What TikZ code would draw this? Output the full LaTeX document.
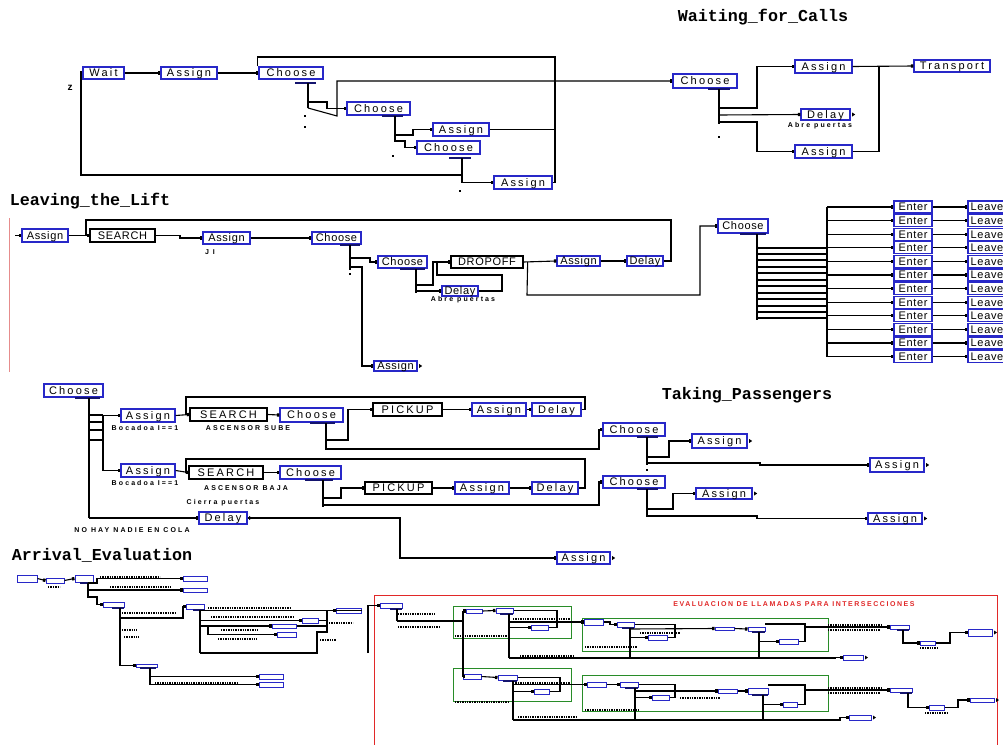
\documentclass[tikz,border=0pt]{standalone}
\usepackage{fontspec}
\setmainfont{Liberation Sans}
\newfontfamily\bxf[LetterSpace=20]{Liberation Sans}
\newfontfamily\bxnf[LetterSpace=6]{Liberation Sans}
\newfontfamily\lblf[LetterSpace=30]{Liberation Sans}
\newfontfamily\rlf[LetterSpace=22]{Liberation Sans}
\newfontfamily\ttlf{Liberation Mono}
\usetikzlibrary{arrows.meta}
\definecolor{bblue}{RGB}{40,40,200}
\definecolor{ubc}{RGB}{20,20,110}
\definecolor{redc}{RGB}{225,40,40}
\definecolor{greenc}{RGB}{40,140,40}
\definecolor{pinkc}{RGB}{230,140,140}
\tikzset{
  tipr/.style={-{Rectangle[length=2.5pt,width=3.2pt]}},
  bbox/.style={draw=bblue, line width=1.3pt, fill=white, inner sep=0pt, text height=7.6pt, text depth=0pt, font={\bxf\fontsize{11}{11}\selectfont}},
  bboxn/.style={bbox, font={\bxnf\fontsize{11}{11}\selectfont}},
  kbox/.style={bbox, draw=black},
  kboxn/.style={bboxn, draw=black},
  sbox/.style={draw=bblue, line width=1pt, fill=white, inner sep=0pt},
  ttl/.style={font={\ttlf\bfseries\fontsize{16.7}{17}\selectfont}, inner sep=0pt},
  lbl/.style={font={\lblf\bfseries\fontsize{7}{8}\selectfont}, inner sep=0pt},
  rlbl/.style={font={\rlf\bfseries\fontsize{7}{8}\selectfont}, inner sep=0pt, text=redc},
  ubar/.style={line width=2pt, draw=ubc},
  dlab/.style={line width=1.3pt, dash pattern=on 1.3pt off 1.1pt},
  frame/.style={line width=1pt}
}
\newcommand{\mybox}[7][bbox]{\node[#1, minimum width={(#5-#3)*1pt}, minimum height={(#6-#4)*1pt}] (#2) at ({(#3+#5)/2},{(#4+#6)/2}) {#7};}
\newcommand{\stub}[1]{\fill ([xshift=1.5pt]#1.east) -- ++(0,-2) -- ++(3,2) -- ++(-3,2) -- cycle;}
\newcommand{\dotm}[2]{\fill ({#1-1},{#2-1}) rectangle ({#1+1},{#2+1});}
\newcommand{\dl}[3]{\draw[dlab] (#1,#3) -- (#2,#3);}
\begin{document}
\begin{tikzpicture}[x=1pt,y=-1pt,line width=1.1pt]
\fill[white] (0,0) rectangle (1003,744);
\useasboundingbox (0,0) rectangle (1003,744);

% ================= Waiting_for_Calls =================
\node[ttl] (t1) at (763,17) {Waiting\_for\_Calls};
\mybox{ww}{83}{67}{124}{79}{Wait}
\mybox{wa1}{161}{67}{217}{79}{Assign}
\mybox{wc1}{259}{67}{323}{79}{Choose}
\node[lbl, font={\bfseries\fontsize{10}{10}\selectfont}] (wz) at (70,88) {z};
\mybox{wc2}{347}{102}{410}{115}{Choose}
\mybox{wa2}{433}{123}{489}{136}{Assign}
\mybox{wc3}{417}{141}{480}{154}{Choose}
\mybox{wa3}{494}{176}{552}{189}{Assign}
\mybox{wc4}{673}{74}{737}{88}{Choose}
\mybox{wa4}{795}{60}{852}{73}{Assign}
\mybox{wd1}{801}{109}{850}{120}{Delay}
\node[lbl] (wl1) at (820,126) {Abre puertas};
\mybox{wa5}{795}{145}{852}{158}{Assign}
\mybox{wtr}{914}{60}{990}{72}{Transport}

\draw[tipr] (ww.east) -- (wa1.west);
\draw[tipr] (wa1.east) -- (wc1.west);
\draw ([xshift=-1pt]wc1.north west) |- (555,57) |- (wa3.east);
\draw (wa2.east) -- (555,129.5);
\draw[tipr] (462,175) -- (81,175) |- (ww.west);
\draw[ubar] (295,83) -- (316,83);
\draw (308,83) -- (308,108);
\draw[tipr] (308,102) -- (327,102) |- (wc2.west);
\draw[tipr] (308,108) -- (337,116) |- (wc4.west);
\dotm{305}{116}\dotm{305}{127}
\draw[ubar] (382,116) -- (403,116);
\draw (395,116) -- (395,142);
\draw[tipr] (395,135) -- (413,135) |- (wa2.west);
\draw[tipr] (395,141) -- (405,141) |- (wc3.west);
\dotm{393}{156}
\draw[ubar] (449,158) -- (471,158);
\draw (462,158) -- (462,183);
\draw[tipr] (462,182.5) -- (wa3.west);
\dotm{460}{191}
\draw[ubar] (708,89) -- (730,89);
\draw (719,89) -- (719,124);
\draw[tipr] (719,108) -- (757,108) |- (wa4.west);
\draw[tipr] (719,115) -- (wd1.west);
\draw[tipr] (719,122) -- (757,122) |- (wa5.west);
\dotm{719}{137}
\draw[tipr] (wa4.east) -- (wtr.west);
\draw (wa5.east) -| (879,66.5);
\stub{wd1}

% ================= Leaving_the_Lift =================
\node[ttl] (t2) at (90,201) {Leaving\_the\_Lift};
\draw[pinkc, line width=0.8pt] (9,218) -- (9,372);
\mybox[bboxn]{la1}{22}{229}{68}{242}{Assign}
\mybox[kboxn]{ls1}{90}{229}{155}{242}{SEARCH}
\mybox[bboxn]{la2}{203}{232}{250}{244}{Assign}
\node[lbl] (ll0) at (210,252) {J I};
\mybox[bboxn]{lc1}{312}{232}{361}{244}{Choose}
\mybox[bboxn]{lc2}{378}{256}{427}{268}{Choose}
\mybox[kboxn]{ldo}{451}{256}{523}{268}{DROPOFF}
\mybox[bboxn]{ld1}{442}{286}{478}{296}{Delay}
\node[lbl] (ll1) at (463,300) {Abre puertas};
\mybox[bboxn]{la3}{557}{256}{600}{266}{Assign}
\mybox[bboxn]{ld2}{627}{256}{663}{266}{Delay}
\mybox[bboxn]{la4}{374}{361}{417}{371}{Assign}
\mybox[bboxn]{lc3}{718}{219}{768}{233}{Choose}

\draw[tipr] (15,235.5) -- (la1.west);
\draw[tipr] (la1.east) -- (ls1.west);
\draw[tipr] (ld2.east) -- (671,261) |- (86,220) |- (ls1.west);
\draw[tipr] (ls1.east) -- (180,235.5) |- (la2.west);
\draw[tipr] (la2.east) -- (lc1.west);
\draw[ubar] (340,245) -- (360,245);
\draw (350,245) -- (350,270);
\draw[tipr] (350,258) -- (370,258) |- (lc2.west);
\draw[tipr] (350,267) -- (362,267) |- (la4.west);
\dotm{350}{274}
\draw[ubar] (400,269) -- (425,269);
\draw (416,269) -- (416,293);
\draw[tipr] (416,285) -- (433,285) |- (ldo.west);
\draw[tipr] (416,291) -- (ld1.west);
\draw[tipr] (ld1.east) -- (502,291) |- (437,275) |- (ldo.west);
\draw[tipr] (ldo.east) -- (la3.west);
\draw[tipr] (la3.east) -- (ld2.west);
\draw[tipr] ([xshift=4pt]ldo.east) -- (527,295) -| (700,240) |- (lc3.west);
\stub{la4}

\draw[ubar] (740,234) -- (766,234);
\draw (757,234) -- (757,320);
\draw (827,207) -- (827,357);
\foreach \by in {248,254,260,267,273,280,286,293,299,306,312,318}{
  \fill (757,\by-1.5) -- (761,\by) -- (757,\by+1.5) -- cycle;
  \draw (757,\by) -- (827,\by);
}
\foreach \i in {0,...,11}{
  \pgfmathsetmacro\yc{207+13.6*\i}
  \node[bboxn, minimum width=38pt, minimum height=12pt] (e\i) at (913,\yc) {Enter};
  \node[bboxn, minimum width=38pt, minimum height=12pt] (lv\i) at (987,\yc) {Leave};
  \draw[tipr] (827,\yc) -- (e\i.west);
  \draw[tipr] (e\i.east) -- (lv\i.west);
}

% ================= Taking_Passengers =================
\node[ttl] (t3) at (747,395) {Taking\_Passengers};
\mybox{tc0}{44}{384}{103}{397}{Choose}
\mybox{ta1}{121}{409}{175}{422}{Assign}
\mybox[kbox]{ts1}{190}{408}{267}{421}{SEARCH}
\mybox{tc1}{280}{408}{343}{422}{Choose}
\mybox[kbox]{tp1}{373}{403}{442}{416}{PICKUP}
\mybox{ta2}{472}{403}{526}{416}{Assign}
\mybox{td1}{532}{403}{581}{416}{Delay}
\mybox{ta3}{121}{464}{175}{477}{Assign}
\mybox[kbox]{ts2}{189}{466}{263}{479}{SEARCH}
\mybox{tc2}{280}{466}{341}{479}{Choose}
\mybox[kbox]{tp2}{365}{482}{432}{494}{PICKUP}
\mybox{ta4}{455}{482}{509}{494}{Assign}
\mybox{td2}{532}{482}{578}{494}{Delay}
\mybox{td3}{199}{512}{247}{524}{Delay}
\mybox{ta5}{557}{552}{610}{564}{Assign}
\mybox{tc3}{603}{423}{665}{436}{Choose}
\mybox{ta6}{692}{434}{747}{448}{Assign}
\mybox{ta7}{870}{458}{924}{472}{Assign}
\mybox{tc4}{603}{476}{665}{488}{Choose}
\mybox{ta8}{696}{488}{752}{499}{Assign}
\mybox{ta9}{868}{513}{922}{524}{Assign}
\node[lbl] (tl1) at (145,428) {Bocadoa I==1};
\node[lbl] (tl2) at (248,428) {ASCENSOR SUBE};
\node[lbl] (tl3) at (145,483) {Bocadoa I==1};
\node[lbl] (tl4) at (246,488) {ASCENSOR BAJA};
\node[lbl] (tl5) at (223,503) {Cierra puertas};
\node[lbl] (tl6) at (132,530) {NO HAY NADIE EN COLA};

\draw[ubar] (75,398) -- (100,398);
\draw (89,398) -- (89,518);
\foreach \ry in {415,422,430,440}{ \draw (89,\ry) -- (103,\ry); }
\draw (103,415) -- (103,471);
\draw[tipr] (103,415.5) -- (ta1.west);
\draw[tipr] (103,470.5) -- (ta3.west);
\draw[tipr] (89,518) -- (td3.west);
\draw[tipr] (ta1.east) -- (ts1.west);
\draw[tipr] (ts1.east) -- (tc1.west);
\draw[tipr] (td1.east) -- (585,409.5) |- (186,397) |- (ts1.west);
\draw[ubar] (310,423) -- (335,423);
\draw (326,423) -- (326,450);
\draw[tipr] (326,440) -- (348,440) |- (tp1.west);
\draw[tipr] (tp1.east) -- (ta2.west);
\draw[tipr] (ta2.east) -- (td1.west);
\draw[tipr] (326,449) -- (599,449) |- (tc3.west);
\draw[tipr] (ta3.east) -- (ts2.west);
\draw[tipr] (ts2.east) -- (tc2.west);
\draw[tipr] (td2.east) -- (585,488) |- (186,459) |- (ts2.west);
\draw[ubar] (305,480) -- (333,480);
\draw (323,480) -- (323,507);
\draw[tipr] (323,498) -- (341,498) |- (tp2.west);
\draw[tipr] (tp2.east) -- (ta4.west);
\draw[tipr] (ta4.east) -- (td2.west);
\draw[tipr] (323,505) -- (599,505) |- (tc4.west);
\draw[tipr] (td3.east) -- (400,518) |- (ta5.west);
\draw[ubar] (637,437) -- (658,437);
\draw (647,437) -- (647,465);
\draw[tipr] (647,457) -- (669,457) |- (ta6.west);
\draw[tipr] (647,463) -- (760,463) |- (ta7.west);
\dotm{647}{470}
\draw[ubar] (637,489) -- (658,489);
\draw (647,489) -- (647,517);
\draw[tipr] (647,509) -- (673,509) |- (ta8.west);
\draw[tipr] (647,516) -- (757,516) |- (ta9.west);
\stub{ta5}\stub{ta6}\stub{ta7}\stub{ta8}\stub{ta9}\stub{td3}

% ================= Arrival_Evaluation =================
\node[ttl] (t4) at (102,555) {Arrival\_Evaluation};
\mybox[sbox]{e1}{17}{575}{37}{582}{}
\mybox[sbox]{e2}{46}{578}{64}{583}{}
\mybox[sbox]{e3}{75}{575}{93}{582}{}
\mybox[sbox]{e4}{183}{576}{207}{581}{}
\mybox[sbox]{e5}{183}{588}{207}{592}{}
\mybox[sbox]{e6}{103}{602}{124}{607}{}
\mybox[sbox]{e7}{186}{604}{204}{609}{}
\mybox[sbox]{e8}{336}{608}{361}{613}{}
\mybox[sbox]{e9}{302}{618}{318}{623}{}
\mybox[sbox]{e10}{272}{624}{296}{628}{}
\mybox[sbox]{e11}{277}{632}{296}{637}{}
\mybox[sbox]{e12}{136}{664}{157}{667}{}
\mybox[sbox]{e13}{259}{674}{283}{679}{}
\mybox[sbox]{e14}{259}{682}{283}{687}{}

\draw[tipr] (e1.east) -- (e2.west);
\draw[tipr] (e2.east) -- (e3.west);
\draw[ubar] (80,583) -- (93,583);
\draw (88,583) -- (88,598);
\draw[tipr] (88,583) -- (97,583) |- (e4.west);
\draw[tipr] (88,590) -- (e5.west);
\draw[tipr] (88,597) -- (97,597) |- (e6.west);
\draw[ubar] (112,608) -- (124,608);
\draw (120,608) -- (120,666);
\draw[tipr] (120,618) -- (183,618) |- (e7.west);
\draw[tipr] (120,665.5) -- (e12.west);
\draw[ubar] (193,610) -- (205,610);
\draw (200,610) -- (200,653);
\draw[tipr] (200,610.5) -- (e8.west);
\draw[tipr] (200,620.5) -- (e9.west);
\draw[tipr] (200,626) -- (e10.west);
\draw[tipr] (208,626) -- (208,634.5) -- (e11.west);
\draw (e9.east) -- (327,620.5) -- (327,632) -- (317,632) |- (200,653);
\draw (e10.east) -- (327,626);
\draw (e8.east) -- (327,610.5) -- (327,620.5);
\draw[ubar] (140,668) -- (156,668);
\draw (150,668) -- (150,684.5);
\draw[tipr] (150,676.5) -- (e13.west);
\draw[tipr] (150,684.5) -- (e14.west);
\dl{100}{160}{577}\dl{110}{172}{587}\dl{48}{60}{587}
\dl{122}{175}{613}\dl{122}{137}{630}\dl{124}{139}{637}
\dl{208}{290}{608}\dl{211}{293}{617}\dl{221}{258}{630}\dl{218}{257}{639}
\dl{329}{353}{623}\dl{320}{336}{640}\dl{155}{237}{683}

% red frame
\draw[redc, frame] (374,750) -- (374,595) -- (997,595) -- (997,750);
\node[rlbl] (rt) at (794,604) {EVALUACION DE LLAMADAS PARA INTERSECCIONES};
\draw[greenc, frame] (453,606) rectangle (571,638);
\draw[greenc, frame] (582,618) rectangle (828,651);
\draw[greenc, frame] (453,668) rectangle (571,701);
\draw[greenc, frame] (582,675) rectangle (828,711);

\mybox[sbox]{r0}{380}{603}{402}{608}{}
\mybox[sbox]{rb1}{466}{609}{482}{613}{}
\mybox[sbox]{rb2}{496}{608}{513}{613}{}
\mybox[sbox]{rb3}{531}{625}{548}{630}{}
\mybox[sbox]{rb4}{584}{619}{603}{625}{}
\mybox[sbox]{rb5}{617}{622}{634}{627}{}
\mybox[sbox]{rb6}{648}{635}{667}{640}{}
\mybox[sbox]{rb7}{715}{627}{734}{630}{}
\mybox[sbox]{rb8}{748}{627}{765}{631}{}
\mybox[sbox]{rb9}{779}{639}{798}{644}{}
\mybox[sbox]{rb10}{843}{655}{863}{660}{}
\mybox[sbox]{rb11}{890}{625}{909}{629}{}
\mybox[sbox]{rb12}{920}{641}{935}{645}{}
\mybox[sbox]{rb13}{968}{629}{992}{636}{}
\mybox[sbox]{rc1}{463}{674}{481}{679}{}
\mybox[sbox]{rc2}{498}{675}{517}{680}{}
\mybox[sbox]{rc3}{534}{689}{549}{694}{}
\mybox[sbox]{rc4}{587}{682}{606}{687}{}
\mybox[sbox]{rc5}{620}{682}{638}{687}{}
\mybox[sbox]{rc6}{652}{695}{669}{700}{}
\mybox[sbox]{rc7}{718}{689}{737}{693}{}
\mybox[sbox]{rc8}{748}{688}{768}{694}{}
\mybox[sbox]{rc9}{783}{702}{797}{707}{}
\mybox[sbox]{rc10}{849}{715}{871}{720}{}
\mybox[sbox]{rc11}{890}{688}{912}{692}{}
\mybox[sbox]{rc12}{929}{705}{944}{710}{}
\mybox[sbox]{rc13}{970}{698}{994}{702}{}

\draw[tipr] (368,653) -- (368,605.5) -- (r0.west);
\draw[ubar] (390,609) -- (402,609);
\draw (397,609) -- (397,621);
\draw[line width=1.6pt] (397,621) -- (463,621);
\draw (463,611) -- (463,676.5);
\draw[tipr] (463,611) -- (rb1.west);
\draw[tipr] (463,676.5) -- (rc1.west);
\draw[tipr] (rb1.east) -- (rb2.west);
\draw[ubar] (500,614) -- (513,614);
\draw (509,614) -- (509,658);
\draw[tipr] (509,622) -- (rb4.west);
\draw[tipr] (509,627.5) -- (rb3.west);
\draw (rb3.east) -- (557,627.5) |- (rb2.east);
\draw[tipr] (509,658) -- (835,658) |- (rb10.west);
\draw[tipr] (rb4.east) -- (610,622) |- (rb5.west);
\draw[ubar] (622,628) -- (634,628);
\draw (630,628) -- (630,658);
\draw[tipr] (630,637.5) -- (rb6.west);
\draw (rb5.east) -- (675,624.5) |- (rb6.east);
\draw[tipr] (630,629) -- (rb7.west);
\draw[tipr] (rb7.east) -- (rb8.west);
\draw[ubar] (752,632) -- (765,632);
\draw (759,632) -- (759,658);
\draw[tipr] (759,641.5) -- (rb9.west);
\draw (rb9.east) -| (805,624) -- (765,624);
\draw[tipr] (805,627) -- (rb11.west);
\draw[ubar] (897,630) -- (909,630);
\draw[tipr] (903,630) |- (rb12.west);
\draw[tipr] (rb12.east) -- (950,643) |- (rb13.west);
\stub{rb13}\stub{rb10}

\draw[tipr] (rc1.east) -- (rc2.west);
\draw[ubar] (503,681) -- (517,681);
\draw (513,681) -- (513,720);
\draw[tipr] (513,684.5) -- (rc4.west);
\draw[tipr] (513,691.5) -- (rc3.west);
\draw (rc3.east) -- (560,691.5) |- (rc2.east);
\draw[line width=1.6pt] (513,720) -- (827,720);
\draw[tipr] (827,720) -- (840,720) |- (rc10.west);
\draw[tipr] (rc4.east) -- (rc5.west);
\draw[ubar] (625,688) -- (638,688);
\draw (635,688) -- (635,720);
\draw[tipr] (635,697.5) -- (rc6.west);
\draw (rc5.east) -- (675,684.5) |- (rc6.east);
\draw[tipr] (635,691) -- (rc7.west);
\draw[tipr] (rc7.east) -- (rc8.west);
\draw[ubar] (752,695) -- (768,695);
\draw (763,695) -- (763,720);
\draw[tipr] (763,704.5) -- (rc9.west);
\draw (rc9.east) -| (805,685) -- (768,685);
\draw[tipr] (805,690) -- (rc11.west);
\draw[ubar] (900,693) -- (912,693);
\draw[tipr] (908,693) |- (rc12.west);
\draw[tipr] (rc12.east) -- (958,707.5) |- (rc13.west);
\stub{rc13}\stub{rc10}

\dl{398}{435}{614}\dl{398}{439}{627}\dl{455}{510}{636}\dl{513}{570}{619}
\dl{520}{575}{656}\dl{585}{637}{647}\dl{640}{680}{633}
\dl{828}{882}{625}\dl{828}{880}{630}\dl{920}{938}{648}
\dl{455}{510}{702}\dl{513}{570}{683}\dl{518}{577}{717}\dl{585}{640}{710}
\dl{828}{882}{688}\dl{828}{880}{693}\dl{925}{947}{713}\dl{680}{720}{698}
\end{tikzpicture}
\end{document}
